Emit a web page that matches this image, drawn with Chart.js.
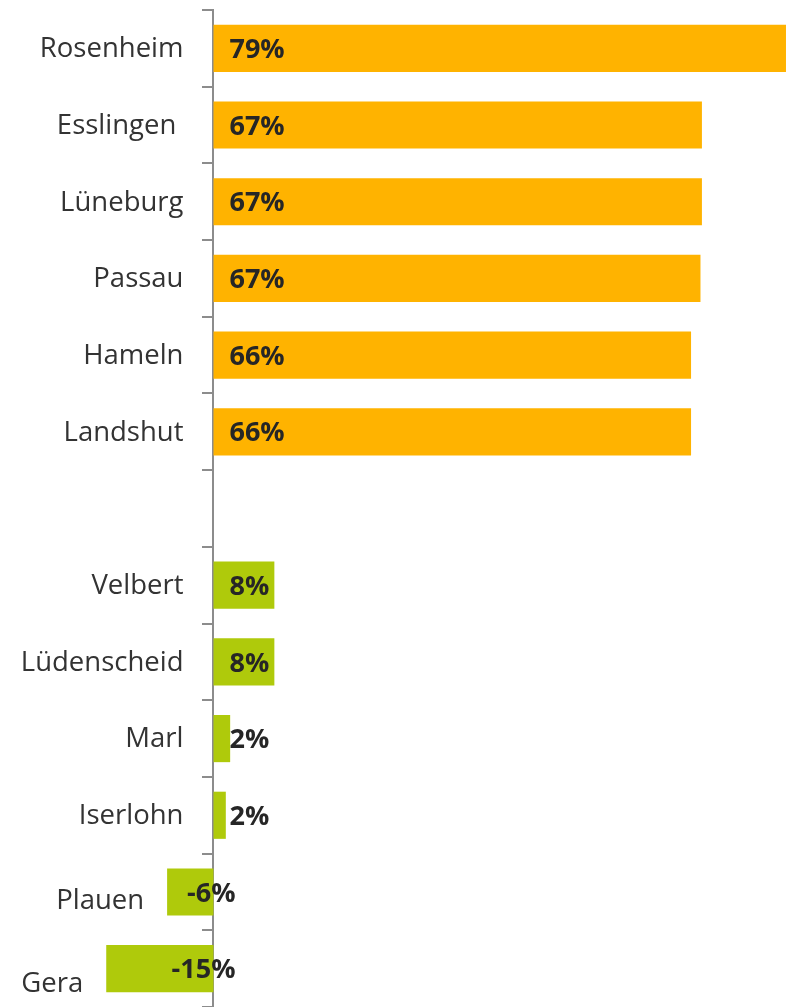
<!DOCTYPE html>
<html>
<head>
<meta charset="utf-8">
<script src="https://cdn.jsdelivr.net/npm/chart.js@4"></script>
<style>
  body { margin: 0; background: #fff; }
  #wrap { width: 792px; height: 1007px; }
</style>
</head>
<body>
<div id="wrap"><canvas id="myChart"></canvas></div>
<script>
const cities = ['Rosenheim', 'Esslingen ', 'Lüneburg', 'Passau', 'Hameln', 'Landshut', '',
    'Velbert', 'Lüdenscheid', 'Marl', 'Iserlohn', 'Plauen', 'Gera'];
const change = [79, 67.4, 67.4, 67.2, 65.9, 65.9, null, 8.4, 8.4, 2.3, 1.7, -6.4, -14.8];
const topCount = 6;   // first group = orange, rest = green

const orange = '#FFB300';
const green = '#AFCA0B';

const textColor = '#262626';

// category names + value labels drawn by hand (no datalabels plugin offline)
const labelPlugin = {
    id: 'labels',
    afterDatasetsDraw(chart) {
        const ctx = chart.ctx;
        const bars = chart.getDatasetMeta(0).data;
        const zero = chart.scales.x.getPixelForValue(0);
        ctx.save();
        ctx.textBaseline = 'middle';
        bars.forEach((bar, i) => {
            const v = change[i];
            if (v === null) return;
            // city name
            ctx.font = '27.5px "Open Sans"';
            ctx.fillStyle = '#333333';
            ctx.textAlign = 'right';
            if (v >= 0) {
                ctx.fillText(cities[i], zero - 30, bar.y + 1);
            } else {
                ctx.fillText(cities[i], bar.x - 23, bar.y + 9 + (i - 11) * 7);
            }
            // value
            ctx.font = 'bold 27px "Open Sans"';
            ctx.fillStyle = textColor;
            const txt = Math.round(v) + '%';
            if (v >= 0) {
                ctx.textAlign = 'left';
                ctx.fillText(txt, zero + 16, bar.y + 2);
            } else {
                ctx.textAlign = 'right';
                ctx.fillText(txt, zero + 22, bar.y + 2);
            }
        });
        ctx.restore();
    }
};

new Chart(document.getElementById('myChart'), {
    type: 'bar',
    data: {
        labels: cities,
        datasets: [{
            data: change,
            backgroundColor: change.map((v, i) => i < topCount ? orange : green),
            borderWidth: 0,
            barPercentage: 0.615,
            categoryPercentage: 1
        }]
    },
    options: {
        indexAxis: 'y',
        responsive: true,
        maintainAspectRatio: false,
        animation: false,
        layout: { padding: { top: 10, left: 0, right: 0, bottom: 0 } },
        scales: {
            x: {
                display: false,
                min: -29.46,
                max: 79.83
            },
            y: {
                position: { x: 0 },
                ticks: { display: false },
                grid: {
                    drawOnChartArea: false,
                    drawTicks: true,
                    tickLength: 10,
                    color: '#8c8c8c',
                    lineWidth: 2
                },
                border: { color: '#8c8c8c', width: 2 }
            }
        },
        plugins: {
            legend: { display: false },
            tooltip: { enabled: false }
        }
    },
    plugins: [labelPlugin]
});
</script>
</body>
</html>
